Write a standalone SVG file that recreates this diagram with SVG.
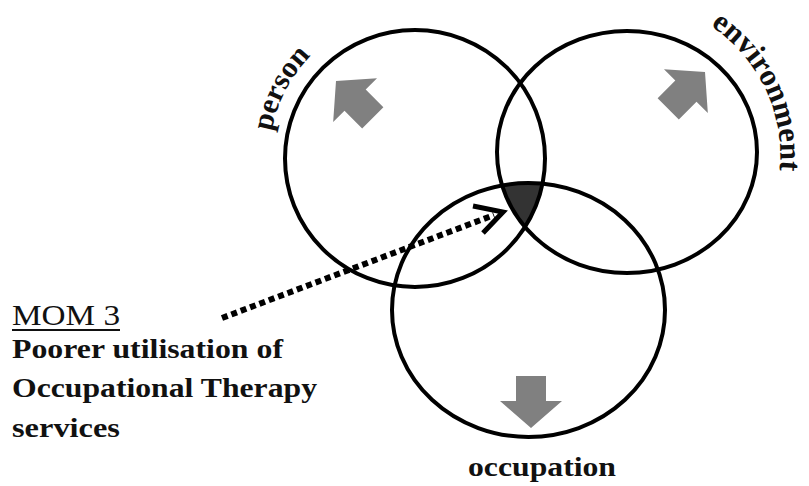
<svg xmlns="http://www.w3.org/2000/svg" width="809" height="486" viewBox="0 0 809 486">
  <style>
    .ring { fill: none; stroke: #000; stroke-width: 4; }
    .blk { fill: #808080; }
    .lbl { font-weight: bold; fill: #111; }
    .txt { fill: #111; }
  </style>
  <defs>
    <polygon id="blockArrow" points="0,0 31,27 15,27 15,52 -15,52 -15,27 -31,27"/>
    <clipPath id="clipPerson"><ellipse cx="415" cy="158.5" rx="130" ry="128.5"/></clipPath>
    <clipPath id="clipEnv"><ellipse cx="627" cy="152" rx="130" ry="121"/></clipPath>
    <path id="personArc" d="M271.2,183.4 A146,146 0 0 1 353.3,25.7"/>
    <path id="envArc" d="M679,10 A155,155 0 0 1 772,205"/>
  </defs>
  <rect width="809" height="486" fill="#fff"/>

  <g id="centre">
    <g clip-path="url(#clipPerson)">
      <g clip-path="url(#clipEnv)">
        <ellipse cx="528.5" cy="310" rx="136.5" ry="127" fill="#333"/>
      </g>
    </g>
  </g>

  <g id="person">
    <ellipse class="ring" cx="415" cy="158.5" rx="130" ry="128.5"/>
    <use href="#blockArrow" class="blk" transform="translate(336,81) rotate(-45)"/>
    <text class="lbl" font-family="'Liberation Serif', 'Times New Roman', Times, serif" font-size="30"><textPath href="#personArc" startOffset="50%" text-anchor="middle">person</textPath></text>
  </g>

  <g id="environment">
    <ellipse class="ring" cx="627" cy="152" rx="130" ry="121"/>
    <use href="#blockArrow" class="blk" transform="translate(705,72) rotate(45)"/>
    <text class="lbl" font-family="'Liberation Serif', 'Times New Roman', Times, serif" font-size="31"><textPath href="#envArc" startOffset="50%" text-anchor="middle">environment</textPath></text>
  </g>

  <g id="occupation">
    <ellipse class="ring" cx="528.5" cy="310" rx="136.5" ry="127"/>
    <use href="#blockArrow" class="blk" transform="translate(531,428) rotate(180)"/>
    <text class="lbl" font-family="'Liberation Serif', 'Times New Roman', Times, serif" x="542" y="476" font-size="28" text-anchor="middle" textLength="148" lengthAdjust="spacingAndGlyphs">occupation</text>
  </g>

  <g id="mom3" font-family="'Liberation Serif', 'Times New Roman', Times, serif">
    <text class="txt" x="12" y="325" font-size="30" textLength="108" lengthAdjust="spacingAndGlyphs">MOM 3</text>
    <line x1="12" y1="330" x2="120" y2="330" stroke="#111" stroke-width="2"/>
    <text class="lbl" x="12" y="358" font-size="28" textLength="271" lengthAdjust="spacingAndGlyphs">Poorer utilisation of</text>
    <text class="lbl" x="12" y="397" font-size="28" textLength="305" lengthAdjust="spacingAndGlyphs">Occupational Therapy</text>
    <text class="lbl" x="12" y="437" font-size="28" textLength="108" lengthAdjust="spacingAndGlyphs">services</text>
  </g>

  <g id="connectors">
    <line x1="222" y1="318" x2="494" y2="215" stroke="#000" stroke-width="6" stroke-dasharray="6 4"/>
    <polyline points="473,206 503,212 483,233" fill="none" stroke="#000" stroke-width="5" stroke-linejoin="miter"/>
  </g>
</svg>
